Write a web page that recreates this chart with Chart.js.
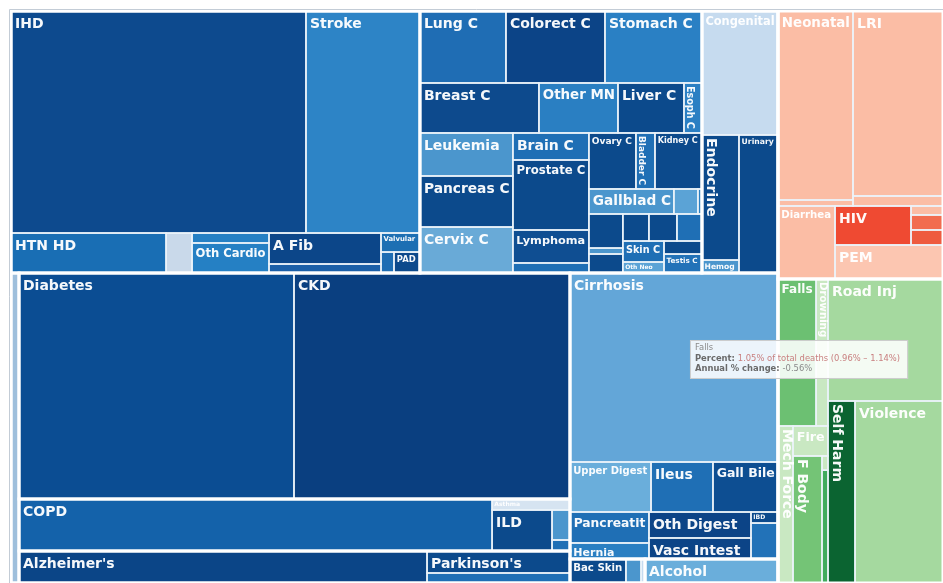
<!DOCTYPE html>
<html>
<head>
<meta charset="utf-8">
<script src="https://cdn.jsdelivr.net/npm/chart.js@4/dist/chart.umd.min.js"></script>
<style>
  html, body { margin: 0; padding: 0; background: #ffffff; }
  canvas { display: block; }
</style>
</head>
<body>
<canvas id="chart" width="943" height="583"></canvas>
<script>
// ---------------- DATA (percent of total deaths) ----------------
const cardioCauses = ['IHD', 'Stroke', 'HTN HD', 'Cardiomyop', 'Rheum HD', 'Oth Cardio', 'A Fib', 'Aortic An', 'Valvular', 'Endocard', 'PAD'];
const cardioPct    = [12.285, 4.747, 1.163, 0.195, 0.144, 0.433, 0.651, 0.189, 0.139, 0.051, 0.102];

const neoCauses = ['Lung C', 'Colorect C', 'Stomach C', 'Breast C', 'Other MN', 'Liver C', 'Esoph C',
                   'Leukemia', 'Pancreas C', 'Cervix C', 'Brain C', 'Prostate C', 'Lymphoma', 'Myeloma',
                   'Ovary C', 'Bladder C', 'Kidney C', 'Gallblad C', 'Uterus C', 'Nasophar C',
                   'Melanoma', 'Hodgkin', 'Lip Oral C', 'Thyroid C', 'Larynx C', 'Oth Phar C',
                   'Skin C', 'Oth Neo', 'Mesothel', 'Testis C'];
const neoPct    = [1.161, 1.337, 1.310, 1.116, 0.741, 0.619, 0.169,
                   0.750, 0.890, 0.802, 0.385, 0.998, 0.470, 0.143,
                   0.494, 0.200, 0.494, 0.399, 0.113, 0.019,
                   0.217, 0.038, 0.121, 0.132, 0.142, 0.127,
                   0.162, 0.085, 0.093, 0.135];

const otherNcdCauses = ['Congenital', 'Endocrine', 'Hemog', 'Urinary', 'Oral'];
const otherNcdPct    = [1.768, 0.868, 0.090, 1.010, 0.465];

const diabCkdCauses = ['Diabetes', 'CKD'];
const diabCkdPct    = [11.658, 11.701];

const respCauses = ['COPD', 'Asthma', 'ILD', 'Pneumocon', 'Oth Resp'];
const respPct    = [4.614, 0.161, 0.461, 0.101, 0.037];

const neuroCauses = ["Alzheimer's", "Parkinson's", 'Epilepsy'];
const neuroPct    = [2.449, 0.590, 0.268];

const digestCauses = ['Cirrhosis', 'Upper Digest', 'Ileus', 'Gall Bile', 'Pancreatit', 'Hernia', 'Oth Digest', 'Vasc Intest', 'IBD', 'Appendic'];
const digestPct    = [7.374, 0.760, 0.581, 0.610, 0.459, 0.237, 0.497, 0.402, 0.056, 0.182];

const skinSubstCauses = ['Bac Skin', 'Fungal Skin', 'Oth Skin', 'Alcohol'];
const skinSubstPct    = [0.252, 0.068, 0.018, 0.599];

const commCauses = ['Neonatal', 'Neo Sepsis', 'LRI', 'URI', 'Diarrhea', 'HIV', 'Meningitis', 'Hepatitis', 'Encephal', 'PEM'];
const commPct    = [2.659, 0.084, 3.123, 0.169, 0.781, 0.556, 0.054, 0.090, 0.090, 0.689];

const injCauses = ['Falls', 'Drowning', 'Mech Force', 'Fire', 'F Body', 'Heat', 'Animal', 'Road Inj', 'Self Harm', 'Violence'];
const injPct    = [1.05, 0.329, 0.442, 0.197, 0.691, 0.016, 0.127, 2.632, 0.922, 3.004];

// hover tooltip shown in the picture
const tipCause = 'Falls';
const tipInterval = [0.96, 1.14];
const tipAnnualChange = -0.56;

// ---------------- STYLE ----------------
const palette = {
  'IHD': '#0d4a8e', 'Stroke': '#2d84c6', 'HTN HD': '#196eb4', 'Cardiomyop': '#c9d9ea', 'Rheum HD': '#2580c4',
  'Oth Cardio': '#2580c4', 'A Fib': '#0c4689', 'Aortic An': '#1b5fa8', 'Valvular': '#1d6fb3', 'Endocard': '#1e6db3', 'PAD': '#0d4a8c',
  'Lung C': '#1f6db4', 'Colorect C': '#0c4487', 'Stomach C': '#2a80c4', 'Breast C': '#0d4a8d', 'Other MN': '#2a7fc2',
  'Liver C': '#0c4a8c', 'Esoph C': '#2b7fc3', 'Leukemia': '#4b96cd', 'Pancreas C': '#0c4a8c', 'Cervix C': '#69aad7',
  'Brain C': '#1f6fb5', 'Prostate C': '#0c4a8c', 'Lymphoma': '#0f4e92', 'Myeloma': '#1f6fb5', 'Ovary C': '#0c4a8c',
  'Bladder C': '#1f6fb5', 'Kidney C': '#0c4a8c', 'Gallblad C': '#4b96cd', 'Uterus C': '#5ba3d6', 'Nasophar C': '#2a7fc2',
  'Melanoma': '#0c4a8c', 'Hodgkin': '#4b96cd', 'Lip Oral C': '#0c4a8c', 'Thyroid C': '#0c4a8c', 'Larynx C': '#0c4a8c',
  'Oth Phar C': '#1f6fb5', 'Skin C': '#1f6fb5', 'Oth Neo': '#5ba3d6', 'Mesothel': '#0c4a8c', 'Testis C': '#2272b8',
  'Congenital': '#c6dbef', 'Endocrine': '#0c4a8c', 'Hemog': '#4b96cd', 'Urinary': '#0c4a8c', 'Oral': '#9ebfdc',
  'Diabetes': '#0b4d93', 'CKD': '#0a3f80', 'COPD': '#1462aa', 'Asthma': '#d6e4f1', 'ILD': '#0c4a8c',
  'Pneumocon': '#4b96cd', 'Oth Resp': '#1f6fb5', "Alzheimer's": '#0b4587', "Parkinson's": '#0c4a8c', 'Epilepsy': '#1f6fb5',
  'Cirrhosis': '#63a6d8', 'Upper Digest': '#6aaedb', 'Ileus': '#1f6fb5', 'Gall Bile': '#0d4e92', 'Pancreatit': '#1f6fb5',
  'Hernia': '#2a7fc2', 'Oth Digest': '#0c4487', 'Vasc Intest': '#0c4487', 'IBD': '#0c4a8c', 'Appendic': '#2272b8',
  'Bac Skin': '#0c4a8c', 'Fungal Skin': '#4b96cd', 'Oth Skin': '#c6dbef', 'Alcohol': '#6aaedb',
  'Neonatal': '#fbbda5', 'Neo Sepsis': '#fbbda5', 'LRI': '#fbbda5', 'URI': '#fbbda5', 'Diarrhea': '#fbbda5',
  'HIV': '#ef4a32', 'Meningitis': '#fbbda5', 'Hepatitis': '#f26c4f', 'Encephal': '#ee5b3f', 'PEM': '#fcc6b1',
  'Falls': '#6cc072', 'Drowning': '#c9e8c2', 'Mech Force': '#c9e8c2', 'Fire': '#c9e8c2', 'F Body': '#74c476',
  'Heat': '#c9e8c2', 'Animal': '#41ab5d', 'Road Inj': '#a5d99f', 'Self Harm': '#0b6431', 'Violence': '#a5d99f'
};

// ---------------- HIERARCHY (nesting and split direction only) ----------------
const valueOf = {};
[[cardioCauses, cardioPct], [neoCauses, neoPct], [otherNcdCauses, otherNcdPct], [diabCkdCauses, diabCkdPct],
 [respCauses, respPct], [neuroCauses, neuroPct], [digestCauses, digestPct], [skinSubstCauses, skinSubstPct],
 [commCauses, commPct], [injCauses, injPct]].forEach(([names, vals]) => names.forEach((n, i) => { valueOf[n] = vals[i]; }));

const L = (split, ...kids) => ({ split, kids });
const G = (name, split, ...kids) => ({ name, split, kids, group: true });

const tree = L('x',
  G('Non-communicable', 'y',
    L('x',
      G('Cardiovascular', 'y',
        L('x', 'IHD', 'Stroke'),
        L('x', 'HTN HD', 'Cardiomyop', L('y', 'Rheum HD', 'Oth Cardio'), L('y', 'A Fib', 'Aortic An'),
              L('y', 'Valvular', L('x', 'Endocard', 'PAD')))),
      G('Neoplasms', 'y',
        L('x', 'Lung C', 'Colorect C', 'Stomach C'),
        L('x', 'Breast C', 'Other MN', 'Liver C', 'Esoph C'),
        L('x',
          L('y', 'Leukemia', 'Pancreas C', 'Cervix C'),
          L('y', 'Brain C', 'Prostate C', 'Lymphoma', 'Myeloma'),
          L('y',
            L('x', 'Ovary C', 'Bladder C', 'Kidney C'),
            L('x', 'Gallblad C', 'Uterus C', 'Nasophar C'),
            L('x',
              L('y', 'Melanoma', 'Hodgkin', 'Lip Oral C'),
              L('y',
                L('x', 'Thyroid C', 'Larynx C', 'Oth Phar C'),
                L('x', L('y', 'Skin C', 'Oth Neo'), L('y', 'Mesothel', 'Testis C'))))))),
      G('Other NCD', 'y', 'Congenital', L('x', L('y', 'Endocrine', 'Hemog'), 'Urinary'))),
    L('x',
      G('Oral disorders', 'y', 'Oral'),
      L('y',
        G('Diabetes & CKD', 'x', 'Diabetes', 'CKD'),
        G('Chronic respiratory', 'x', 'COPD', L('y', 'Asthma', L('x', 'ILD', L('y', 'Pneumocon', 'Oth Resp')))),
        G('Neurological', 'x', "Alzheimer's", L('y', "Parkinson's", 'Epilepsy'))),
      L('y',
        G('Digestive', 'y', 'Cirrhosis', L('x', 'Upper Digest', 'Ileus', 'Gall Bile'),
          L('x', L('y', 'Pancreatit', 'Hernia'), L('y', 'Oth Digest', 'Vasc Intest'), L('y', 'IBD', 'Appendic'))),
        L('x', G('Skin', 'x', 'Bac Skin', 'Fungal Skin', 'Oth Skin'), G('Substance use', 'x', 'Alcohol'))))),
  L('y',
    G('Communicable', 'y',
      L('x', L('y', 'Neonatal', 'Neo Sepsis'), L('y', 'LRI', 'URI')),
      L('x', 'Diarrhea', L('y', L('x', 'HIV', L('y', 'Meningitis', 'Hepatitis', 'Encephal')), 'PEM'))),
    G('Injuries', 'x',
      L('y', L('x', 'Falls', 'Drowning'), L('x', 'Mech Force', L('y', 'Fire', L('x', 'F Body', L('y', 'Heat', 'Animal'))))),
      L('y', 'Road Inj', L('x', 'Self Harm', 'Violence')))));

function total(node) {
  if (typeof node === 'string') return valueOf[node];
  if (node._t == null) node._t = node.kids.reduce((s, k) => s + total(k), 0);
  return node._t;
}

function layout(node, x0, y0, x1, y1, leaves, groups) {
  if (typeof node === 'string') { leaves.push({ name: node, x0, y0, x1, y1 }); return; }
  if (node.group) groups.push({ name: node.name, x0, y0, x1, y1 });
  const T = total(node);
  let acc = 0;
  node.kids.forEach(k => {
    const a = acc / T; acc += total(k); const b = acc / T;
    if (node.split === 'x') layout(k, x0 + (x1 - x0) * a, y0, x0 + (x1 - x0) * b, y1, leaves, groups);
    else layout(k, x0, y0 + (y1 - y0) * a, x1, y0 + (y1 - y0) * b, leaves, groups);
  });
}

const FONT = '"DejaVu Sans", Verdana, sans-serif';

function drawLabel(ctx, name, X0, Y0, X1, Y1) {
  const w = X1 - X0, h = Y1 - Y0;
  ctx.font = `bold 14px ${FONT}`;
  const tw = ctx.measureText(name).width;
  const fH = Math.min(14, 14 * (w - 7) / tw, h - 5);
  const fR = Math.min(14, 14 * (h - 7) / tw, (w - 4) / 0.78);
  let rot = false, f = fH;
  if (fH < 7 && h > w && fR > fH) { rot = true; f = fR; }
  if (f < 6) return;
  if (!rot && h < 11) return;
  ctx.font = `bold ${f.toFixed(1)}px ${FONT}`;
  ctx.fillStyle = 'rgba(255,255,255,0.96)';
  ctx.textBaseline = 'alphabetic';
  ctx.textAlign = 'left';
  if (!rot) {
    ctx.fillText(name, X0 + 1 + 3 * f / 14, Y0 + f * 1.2);
  } else {
    ctx.save();
    ctx.translate(X0 + 5 * f / 14, Y0 + 3);
    ctx.rotate(Math.PI / 2);
    ctx.fillText(name, 0, 0);
    ctx.restore();
  }
}

function drawTooltip(ctx, cell) {
  const cx = (cell.X0 + cell.X1) / 2, cy = (cell.Y0 + cell.Y1) / 2;
  const fs = 8.4;
  const pct = valueOf[tipCause].toFixed(2);
  const lines = [
    [[tipCause, 'normal', '#8a8a8a']],
    [['Percent: ', 'bold', '#6a6a6a'], [`${pct}% of total deaths (${tipInterval[0].toFixed(2)}% \u2013 ${tipInterval[1].toFixed(2)}%)`, 'normal', '#c98080']],
    [['Annual % change: ', 'bold', '#6a6a6a'], [`${tipAnnualChange.toFixed(2)}%`, 'normal', '#8a8a8a']]
  ];
  let maxW = 0;
  const widths = lines.map(segs => segs.reduce((s, [t, wgt]) => { ctx.font = `${wgt} ${fs}px ${FONT}`; return s + ctx.measureText(t).width; }, 0));
  widths.forEach(v => { maxW = Math.max(maxW, v); });
  const bw = maxW + 13, bh = 39;
  const left = cx - bw / 2 + 2, top = cy - 12.5;
  ctx.fillStyle = 'rgba(255,255,255,0.88)';
  ctx.fillRect(left, top, bw, bh);
  ctx.strokeStyle = 'rgba(200,200,200,0.9)';
  ctx.lineWidth = 1;
  ctx.strokeRect(left + 0.5, top + 0.5, bw - 1, bh - 1);
  const baselines = [10, 21, 31];
  lines.forEach((segs, i) => {
    let x = left + 5;
    segs.forEach(([t, wgt, col]) => {
      ctx.font = `${wgt} ${fs}px ${FONT}`;
      ctx.fillStyle = col;
      ctx.fillText(t, x, top + baselines[i]);
      x += ctx.measureText(t).width;
    });
  });
}

const treemapPlugin = {
  id: 'treemapCells',
  afterDatasetsDraw(chart) {
    const { ctx, chartArea, scales: { x, y } } = chart;
    const leaves = [], groups = [];
    layout(tree, 0, 0, 1, 1, leaves, groups);
    const px = v => x.getPixelForValue(v), py = v => y.getPixelForValue(v);
    ctx.save();
    ctx.beginPath();
    ctx.rect(chartArea.left - 2, chartArea.top - 2, chartArea.right - chartArea.left + 4, chartArea.bottom - chartArea.top + 4);
    ctx.clip();
    leaves.forEach(c => {
      c.X0 = px(c.x0); c.X1 = px(c.x1); c.Y0 = py(c.y0); c.Y1 = py(c.y1);
      ctx.fillStyle = palette[c.name] || '#0c4a8c';
      ctx.fillRect(c.X0, c.Y0, c.X1 - c.X0, c.Y1 - c.Y0);
    });
    ctx.strokeStyle = 'rgba(236,243,250,0.92)';
    ctx.lineWidth = 1.6;
    leaves.forEach(c => ctx.strokeRect(c.X0, c.Y0, c.X1 - c.X0, c.Y1 - c.Y0));
    ctx.strokeStyle = '#ffffff';
    ctx.lineWidth = 3;
    groups.forEach(g => ctx.strokeRect(px(g.x0), py(g.y0), px(g.x1) - px(g.x0), py(g.y1) - py(g.y0)));
    leaves.forEach(c => drawLabel(ctx, c.name, c.X0, c.Y0, c.X1, c.Y1));
    ctx.strokeStyle = '#c3ccd6';
    ctx.lineWidth = 1;
    ctx.beginPath();
    ctx.moveTo(chartArea.left - 1.5, chartArea.bottom);
    ctx.lineTo(chartArea.left - 1.5, chartArea.top - 1.5);
    ctx.lineTo(chartArea.right, chartArea.top - 1.5);
    ctx.stroke();
    const tipCell = leaves.find(c => c.name === tipCause);
    if (tipCell) drawTooltip(ctx, tipCell);
    ctx.restore();
  }
};

new Chart(document.getElementById('chart'), {
  type: 'scatter',
  data: { datasets: [] },
  options: {
    responsive: false,
    animation: false,
    layout: { padding: { left: 11, top: 11, right: 0, bottom: 0 } },
    scales: {
      x: { type: 'linear', min: 0, max: 1, display: false },
      y: { type: 'linear', min: 0, max: 1, reverse: true, display: false }
    },
    plugins: { legend: { display: false }, tooltip: { enabled: false } }
  },
  plugins: [treemapPlugin]
});
</script>
</body>
</html>
